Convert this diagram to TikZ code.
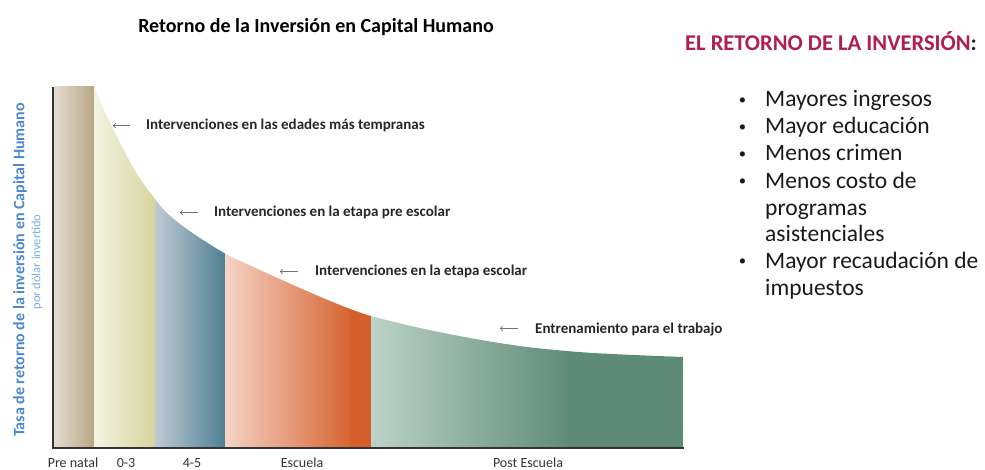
\documentclass[tikz,border=0pt]{standalone}
\usepackage{fontspec}
\setmainfont{Carlito}
\usetikzlibrary{arrows.meta}
\definecolor{prenatalA}{HTML}{E4DCCF}
\definecolor{prenatalB}{HTML}{B9A786}
\definecolor{infanciaA}{HTML}{F3F3E3}
\definecolor{infanciaB}{HTML}{D6D59E}
\definecolor{preescA}{HTML}{BFCAD3}
\definecolor{preescB}{HTML}{4F8094}
\definecolor{escuelaA}{HTML}{F5D4C6}
\definecolor{escuelaB}{HTML}{D55F2B}
\definecolor{postA}{HTML}{BCD3C8}
\definecolor{postB}{HTML}{5E8B78}
\definecolor{ejeazul}{HTML}{4C88CC}
\definecolor{ejeclaro}{HTML}{7AAEE0}
\definecolor{granate}{HTML}{B01E4F}
\tikzset{
	etapa/.style={anchor=base west, inner sep=0, text=black!85, font=\fontsize{15}{17}\selectfont\bfseries},
	flecha/.style={draw=black!55, line width=0.7pt, -{To[length=3pt,width=5pt]}},
	edad/.style={anchor=base, inner sep=0, text=black!80, font=\fontsize{14}{16}\selectfont},
	item/.style={anchor=base west, inner sep=0, align=left, text=black!90, font=\fontsize{23.5}{26.8}\selectfont}
}
\newcommand{\vineta}{\llap{\raisebox{2.5pt}{\scalebox{0.62}{•}}\hspace{19pt}}}
\begin{document}
\begin{tikzpicture}[x=1pt,y=-1pt]
	\useasboundingbox (0,0) rectangle (985,470);
	\node[anchor=base, inner sep=0, font=\fontsize{20}{22}\selectfont\bfseries] (titulo) at (316,33) {Retorno de la Inversión en Capital Humano};
	\shade[left color=prenatalA, right color=prenatalB] (54,87) rectangle (94,448);
	\begin{scope}
		\clip (94,448) -- plot[smooth] coordinates {(94,87) (105,112) (120,143) (137,174) (155,199) (165,211) (180,224) (200,238) (226,254) (260,270) (300,288) (340,305) (371,316) (420,328) (470,338) (527,347) (593,353) (683,357)} -- (683,448) -- cycle;
		\shade[left color=infanciaA, right color=infanciaB] (94,80) rectangle (155,448);
		\shade[left color=preescA, right color=preescB] (155,80) rectangle (225,448);
		\shade[left color=escuelaA, right color=escuelaB!95!escuelaA] (225,80) rectangle (350,448);
		\fill[escuelaB] (349.5,80) rectangle (371,448);
		\shade[left color=postA, right color=postB] (371,80) rectangle (570,448);
		\fill[postB] (569.5,80) rectangle (683,448);
	\end{scope}
	\draw[black!80, line width=2pt] (53,87) -- (53,448) -- (684,448);
	\node[etapa] (l1) at (146,130) {Intervenciones en las edades más tempranas};
	\node[etapa] (l2) at (214,217) {Intervenciones en la etapa pre escolar};
	\node[etapa] (l3) at (315,276) {Intervenciones en la etapa escolar};
	\node[etapa] (l4) at (535,333) {Entrenamiento para el trabajo};
	\draw[flecha] ([xshift=-16pt,yshift=4.5pt]l1.base west) -- ++(-17,0);
	\draw[flecha] ([xshift=-16pt,yshift=4.5pt]l2.base west) -- ++(-18,0);
	\draw[flecha] ([xshift=-17pt,yshift=4.5pt]l3.base west) -- ++(-18,0);
	\draw[flecha] ([xshift=-17pt,yshift=4.5pt]l4.base west) -- ++(-18,0);
	\node[edad] (e0) at (73,467) {Pre natal};
	\node[edad] (e1) at (126,467) {0-3};
	\node[edad] (e2) at (192,467) {4-5};
	\node[edad] (e3) at (302,467) {Escuela};
	\node[edad] (e4) at (528,467) {Post Escuela};
	\node[rotate=90, inner sep=0, text=ejeazul, font=\fontsize{16}{18}\selectfont\bfseries] (eje) at (20,270) {Tasa de retorno de la inversión en Capital Humano};
	\node[rotate=90, inner sep=0, text=ejeclaro, font=\fontsize{12.5}{14}\selectfont] (ejeb) at (37,262) {por dólar invertido};
	\node[anchor=base west, inner sep=0, font=\fontsize{22.5}{24}\selectfont\bfseries] (ret) at (685,51) {\textcolor{granate}{EL RETORNO DE LA INVERSIÓN}\textcolor{black!85}{:}};
	\node[item] (i1) at (765,107) {\vineta Mayores ingresos};
	\node[item] (i2) at (765,134) {\vineta Mayor educación};
	\node[item] (i3) at (765,161) {\vineta Menos crimen};
	\node[item] (i4) at (765,242) {\vineta Menos costo de\\programas\\asistenciales};
	\node[item] (i5) at (765,295) {\vineta Mayor recaudación de\\impuestos};
\end{tikzpicture}
\end{document}
